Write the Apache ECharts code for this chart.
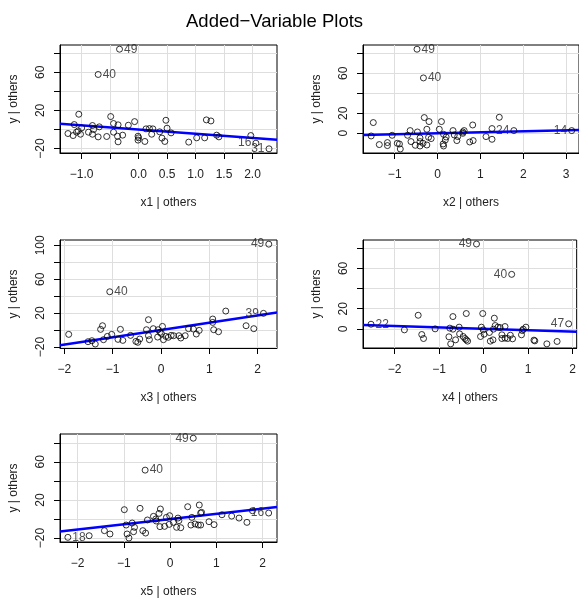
<!DOCTYPE html>
<html>
<head>
<meta charset="utf-8">
<title>Added-Variable Plots</title>
<script type="text/javascript" src="https://cdn.jsdelivr.net/npm/echarts@6/dist/echarts.min.js"></script>
</head>
<body style="margin:0">
<div id="main" style="width:579px;height:600px"></div>
<script type="text/javascript">
// 各面板的数据 (x | others, y | others)
const p1X = [-0.335, -0.71, -1.05, -1.13, -1.24, -1.15, -1.09, -1.06, -1.02, -1.0, -0.88, -0.81, -0.79, -0.81, -0.71, -0.69, -0.56, -0.49, -0.44, -0.44, -0.36, -0.37, -0.36, -0.28, -0.18, -0.07, -0.01, 0, -0.01, 0.11, 0.13, 0.19, 0.23, 0.25, 0.37, 0.41, 0.46, 0.48, 0.5, 0.57, 0.88, 1.02, 1.16, 1.19, 1.27, 1.37, 1.41, 1.97, 2.06, 2.29];
const p1Y = [84.2, 57.7, 16, 5.2, -4.2, -6.3, -2.8, -1.4, -4.9, 1.7, -2.8, 4.2, 0, -4.9, -7.7, 2.8, -7.3, 13.6, 6.3, -2.8, 4.9, -7.0, -12.9, -5.9, 4.5, 8.3, -7.0, -8.7, -11.1, -12.5, 0.7, 1.0, -4.9, 0.7, -2.4, -9.0, -12.5, 9.7, 1.4, -3.5, -13.2, -8.7, -8.7, 10.1, 9.0, -5.9, -7.7, -6.3, -14.3, -20.2];
const p1Ids = ['49', '40', '16', '31'];
const p1IdIdx = [0, 1, 48, 49];

const p2X = [-0.48, -0.33, -1.5, -1.55, -1.36, -1.17, -1.17, -1.06, -0.94, -0.89, -0.87, -0.7, -0.64, -0.62, -0.52, -0.47, -0.41, -0.41, -0.41, -0.34, -0.31, -0.25, -0.25, -0.21, -0.2, -0.15, 0.04, 0.09, 0.13, 0.14, 0.14, 0.18, 0.2, 0.36, 0.39, 0.45, 0.47, 0.59, 0.62, 0.75, 0.83, 0.82, 1.13, 1.27, 1.27, 1.44, 1.78, 3.13, 0.59];
const p2Y = [84, 55.3, 10.7, -2.7, -11.3, -9.3, -12.3, -2, -10, -10.7, -15.7, -2, 2.7, -8.3, -12, 1.3, -4.7, -8.3, -12.7, -10, 15.7, 4, -11.7, -4, 11.7, -5.3, 4, 11.7, -10.7, -12.7, -1, -6.7, -3.7, 2.7, -1.7, -7.3, -3.3, 1.3, 2.7, -8.7, -7.3, 8.3, -3.3, -6, 4.7, 16, 2.7, 2.7, 0];
const p2Ids = ['49', '40', '24', '14'];
const p2IdIdx = [0, 1, 46, 47];

const p3X = [2.23, -1.06, 2.12, 1.34, -1.91, -1.51, -1.43, -1.36, -1.25, -1.21, -1.19, -1.11, -1.02, -0.89, -0.84, -0.79, -0.63, -0.52, -0.48, -0.44, -0.3, -0.26, -0.26, -0.24, -0.16, -0.07, -0.06, -0.02, 0.03, 0.01, 0.05, 0.1, 0.15, 0.21, 0.26, 0.37, 0.41, 0.5, 0.57, 0.67, 0.73, 0.79, 1.07, 1.07, 1.09, 1.19, 1.76, 1.92];
const p3Y = [101.4, 45.2, 19.7, 22.4, -5.1, -13.8, -12.6, -16.5, 0.8, 5.1, -11.4, -7.5, -5.1, -11, 0.8, -12.2, -6.3, -13.4, -14.5, -10.6, 0.4, 12.2, -6.7, -11.4, 1.6, -8.3, 0.4, -2.8, 4.3, -4.3, -11.4, -7.5, -8.6, -6.3, -6.7, -6.7, -9.4, -6.7, 1.6, 1.2, -4.7, -0.4, 13, 9, 0.4, -2, 5.1, 1.6];
const p3Ids = ['49', '40', '39'];
const p3IdIdx = [0, 1, 2];

const p4X = [-0.16, 0.63, 1.91, -2.53, -1.78, -1.47, -1.39, -1.35, -1.09, -0.78, -0.76, -0.74, -0.69, -0.69, -0.63, -0.55, -0.54, -0.46, -0.42, -0.39, -0.39, -0.36, -0.07, -0.05, -0.02, -0.01, 0.01, 0.13, 0.15, 0.21, 0.22, 0.24, 0.26, 0.32, 0.37, 0.41, 0.41, 0.48, 0.48, 0.54, 0.6, 0.65, 0.85, 0.87, 0.89, 0.95, 1.13, 1.15, 1.42, 1.65];
const p4Y = [84.2, 54.1, 5, 4.6, -1, 13.5, -5.6, -9.6, 0, -7.9, 0.7, -14.9, -0.3, 12.2, -10.9, 1.7, -5, -7.6, -9.6, -10.9, 15.2, -12.2, -7.6, 1.7, 15.2, -1, -5.3, -3.6, -12.2, -10.9, -0.3, 10.6, 3.3, 1.7, 1.3, -5.9, -9.6, 2.3, -9.2, -9.6, -6.3, -9.9, -5.9, -1.7, -0.3, 1.7, -11.2, -11.9, -14.9, -12.5];
const p4Ids = ['49', '40', '47', '22'];
const p4IdIdx = [0, 1, 2, 3];

const p5X = [0.5, -0.54, -2.21, 2.13, -1.75, -1.42, -1.3, -0.99, -0.95, -0.93, -0.89, -0.82, -0.79, -0.77, -0.65, -0.59, -0.53, -0.49, -0.36, -0.31, -0.3, -0.24, -0.21, -0.22, -0.12, -0.08, -0.01, -0.02, 0.07, 0.14, 0.17, 0.19, 0.23, 0.38, 0.45, 0.47, 0.54, 0.61, 0.63, 0.66, 0.66, 0.68, 0.84, 0.95, 1.12, 1.33, 1.49, 1.66, 1.78];
const p5Y = [84.8, 51.3, -19.2, 6.3, -17.5, -12.2, -15.7, 9.8, -6.3, -15.7, -19.9, -4.2, -13.3, -8.7, 11.2, -12.2, -14.7, -1, 2.8, 0, -2.1, 5.9, 10.5, -8, -7.7, 1.7, 3.5, -5.6, -3.5, -8.7, 1, -1.7, -9.1, 12.9, -6.3, 1.7, -5.2, -6.3, 14.7, -6.3, 6.3, 7, -2.8, -5.9, 4.5, 3.1, 1, -3.5, 8.7];
const p5Ids = ['49', '40', '18', '16'];
const p5IdIdx = [0, 1, 2, 3];

// 拟合直线斜率
const slopes = [-4.4, 1.0, 8.65, -1.38, 5.48];

// 坐标轴范围与刻度
const xNames = ['x1 | others', 'x2 | others', 'x3 | others', 'x4 | others', 'x5 | others'];
const xRanges = [[-1.38, 2.43], [-1.74, 3.30], [-2.09, 2.40], [-2.71, 2.09], [-2.38, 2.31]];
const yRanges = [[-24.6, 88.6], [-19.7, 88.2], [-21.2, 106.3], [-19.0, 88.2], [-24.1, 89.2]];
const xTicks = [[-1, -0.5, 0, 0.5, 1, 1.5, 2], [-1, 0, 1, 2, 3], [-2, -1, 0, 1, 2], [-2, -1, 0, 1, 2], [-2, -1, 0, 1, 2]];
const xTickLabels = [['−1.0', '', '0.0', '0.5', '1.0', '1.5', '2.0'], ['−1', '0', '1', '2', '3'], ['−2', '−1', '0', '1', '2'], ['−2', '−1', '0', '1', '2'], ['−2', '−1', '0', '1', '2']];
const yTicks = [[-20, 0, 20, 40, 60, 80], [0, 20, 40, 60, 80], [-20, 0, 20, 40, 60, 80, 100], [0, 20, 40, 60, 80], [-20, 0, 20, 40, 60, 80]];
const yTickLabels = [['−20', '', '20', '', '60', ''], ['0', '20', '', '60', ''], ['−20', '', '20', '', '60', '', '100'], ['0', '20', '', '60', ''], ['−20', '', '20', '', '60', '']];

const panels = [
    [p1X, p1Y, p1Ids, p1IdIdx],
    [p2X, p2Y, p2Ids, p2IdIdx],
    [p3X, p3Y, p3Ids, p3IdIdx],
    [p4X, p4Y, p4Ids, p4IdIdx],
    [p5X, p5Y, p5Ids, p5IdIdx]
];

const gridPos = [
    {left: 60, top: 45}, {left: 363, top: 45},
    {left: 60, top: 240}, {left: 363, top: 240},
    {left: 60, top: 434}
];

const font = 'Liberation Sans, Arial, sans-serif';

function pickLabel(ticks, labels, v) {
    const i = ticks.findIndex(t => Math.abs(t - v) < 1e-6);
    return i < 0 ? '' : labels[i];
}

const grid = [], xAxis = [], yAxis = [], series = [];

panels.forEach(function (p, k) {
    const [xs, ys, ids, idIdx] = p;
    grid.push({
        left: gridPos[k].left, top: gridPos[k].top, width: 217, height: 108,
        show: true, borderColor: '#000', borderWidth: 1, backgroundColor: 'transparent'
    });
    xAxis.push({
        type: 'value', gridIndex: k,
        min: xRanges[k][0], max: xRanges[k][1],
        name: xNames[k], nameLocation: 'middle', nameGap: 44,
        nameTextStyle: {fontFamily: font, fontSize: 12, color: '#222'},
        axisLine: {show: true, onZero: false, lineStyle: {color: '#000'}},
        axisTick: {show: true, length: 6, customValues: xTicks[k], lineStyle: {color: '#000'}},
        axisLabel: {
            customValues: xTicks[k], margin: 16,
            fontFamily: font, fontSize: 12, color: '#222',
            formatter: v => pickLabel(xTicks[k], xTickLabels[k], v)
        },
        splitLine: {show: true, lineStyle: {color: '#dedede', width: 1}}
    });
    yAxis.push({
        type: 'value', gridIndex: k,
        min: yRanges[k][0], max: yRanges[k][1],
        name: 'y | others', nameLocation: 'middle', nameGap: 40,
        nameTextStyle: {fontFamily: font, fontSize: 12, color: '#222'},
        axisLine: {show: true, onZero: false, lineStyle: {color: '#000'}},
        axisTick: {show: true, length: 6, customValues: yTicks[k], lineStyle: {color: '#000'}},
        axisLabel: {
            customValues: yTicks[k], margin: 13, rotate: 90,
            fontFamily: font, fontSize: 12, color: '#222',
            formatter: v => pickLabel(yTicks[k], yTickLabels[k], v)
        },
        splitLine: {show: true, lineStyle: {color: '#dedede', width: 1}}
    });

    // 拟合线（过原点）
    const x0 = xRanges[k][0], x1 = xRanges[k][1];
    series.push({
        type: 'line', xAxisIndex: k, yAxisIndex: k,
        data: [[x0, slopes[k] * x0], [x1, slopes[k] * x1]],
        showSymbol: false, silent: true, clip: true,
        lineStyle: {color: '#0000ff', width: 2.5}, z: 3
    });

    // 散点
    const mid = (xRanges[k][0] + xRanges[k][1]) / 2;
    const data = xs.map(function (x, i) {
        const j = idIdx.indexOf(i);
        if (j < 0) return [x, ys[i]];
        return {
            value: [x, ys[i]],
            label: {
                show: true, formatter: ids[j],
                position: x < mid ? 'right' : 'left', distance: 1,
                fontFamily: font, fontSize: 12, color: '#222'
            }
        };
    });
    series.push({
        type: 'scatter', xAxisIndex: k, yAxisIndex: k,
        data: data, symbol: 'circle', symbolSize: 6,
        itemStyle: {color: 'transparent', borderColor: '#000', borderWidth: 1},
        z: 4
    });
});

const chart = echarts.init(document.getElementById('main'));
chart.setOption({
    animation: false,
    title: {
        text: 'Added−Variable Plots', left: 186, top: 12, padding: 0,
        textStyle: {fontFamily: font, fontSize: 18.5, fontWeight: 'normal', color: '#000'}
    },
    grid: grid,
    xAxis: xAxis,
    yAxis: yAxis,
    series: series
});
</script>
</body>
</html>
